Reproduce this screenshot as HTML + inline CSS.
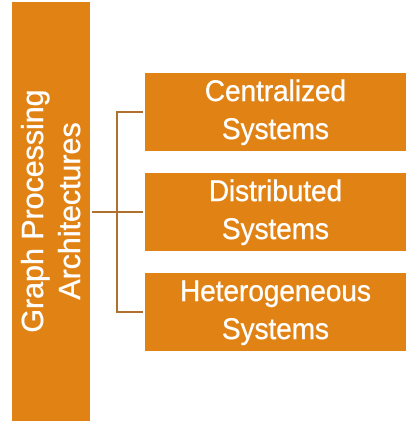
<!DOCTYPE html>
<html><head><style>
html,body{margin:0;padding:0;background:#fff;width:416px;height:441px;overflow:hidden;position:relative;font-family:"Liberation Sans",sans-serif;}
.b{position:absolute;background:#E08214;color:#fff;}
.box{left:145px;width:261px;height:78px;font-size:30px;line-height:38px;text-align:center;-webkit-text-stroke:0.4px #fff;}
.box div{transform:scaleX(0.93);}
.l{position:absolute;background:#B0712F;}
.rot{position:absolute;left:51px;top:211px;width:400px;transform:translate(-50%,-50%) rotate(-90deg);color:#fff;font-size:31px;line-height:37px;text-align:center;-webkit-text-stroke:0.4px #fff;}
</style></head><body>
<div class="b" style="left:12px;top:2px;width:78px;height:419px;"></div>
<div class="rot"><div style="transform:scaleX(0.98)">Graph Processing<br>Architectures</div></div>
<div class="b box" style="top:73px;"><div>Centralized<br>Systems</div></div>
<div class="b box" style="top:173px;"><div>Distributed<br>Systems</div></div>
<div class="b box" style="top:273px;"><div>Heterogeneous<br>Systems</div></div>
<div class="l" style="left:116px;top:111px;width:2px;height:202px;"></div>
<div class="l" style="left:116px;top:111px;width:27px;height:2px;"></div>
<div class="l" style="left:116px;top:311px;width:27px;height:2px;"></div>
<div class="l" style="left:92px;top:211px;width:51px;height:2px;"></div>
</body></html>
